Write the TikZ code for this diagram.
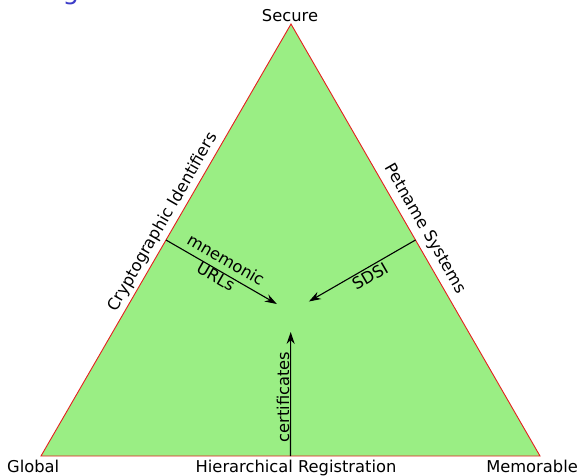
\documentclass[tikz,border=0pt]{standalone}
\usepackage{fontspec}
\setmainfont{DejaVu Sans}
\usetikzlibrary{calc,arrows.meta}
\definecolor{trifill}{RGB}{154,238,132}
\definecolor{triedge}{RGB}{230,30,30}
\definecolor{titleblue}{RGB}{60,60,200}
\begin{document}
\begin{tikzpicture}[x=1pt,y=-1pt,
  lbl/.style={inner sep=0pt,font=\fontsize{16.3}{20}\selectfont,text=black},
  arr/.style={-{Stealth[length=12pt,width=8pt]},line width=1.1pt,black}]
\useasboundingbox (0,0) rectangle (581,475);
\clip (0,0) rectangle (581,475);
\coordinate (T) at (291,24);
\coordinate (L) at (41,456);
\coordinate (R) at (540,456);
\coordinate (C) at (290.7,312);
\fill[trifill] (T) -- (L) -- (R) -- cycle;
\draw[triedge,line width=0.9pt,line join=miter] (T) -- (L) -- (R) -- cycle;
% arrow anchors
\coordinate (ml) at ($(L)!0.5!(T)$);
\coordinate (mr) at ($(R)!0.5!(T)$);
\coordinate (mb) at ($(L)!0.5!(R)$);
\coordinate (el) at ($(C)!16pt!(ml)$);
\coordinate (er) at ($(C)!21pt!(mr)$);
\coordinate (eb) at ($(C)!20pt!(mb)$);
\draw[arr] (ml) -- (el);
\draw[arr] (mr) -- (er);
\draw[arr] (mb) -- (eb);
% labels
\node[lbl,anchor=base] (secure) at (290,21) {Secure};
\node[lbl,anchor=base west] (global) at (7,472) {Global};
\node[lbl,anchor=base east] (memorable) at (578,472) {Memorable};
\node[lbl,anchor=base] (hier) at (296,472) {Hierarchical Registration};
\node[lbl,rotate=60] (crypto) at (163,222) {Cryptographic Identifiers};
\node[lbl,rotate=-60] (petname) at (425,229) {Petname Systems};
\node[lbl,rotate=-30,align=center] (mnem) at (221,268) {mnemonic\\URLs};
\node[lbl,rotate=30] (sdsi) at (370,276) {SDSI};
\node[lbl,rotate=90] (cert) at (283,397) {certificates};
\node[inner sep=0pt,anchor=base,text=titleblue,font=\fontsize{26}{30}\selectfont] (title) at (71,-1) {g};
\end{tikzpicture}
\end{document}
